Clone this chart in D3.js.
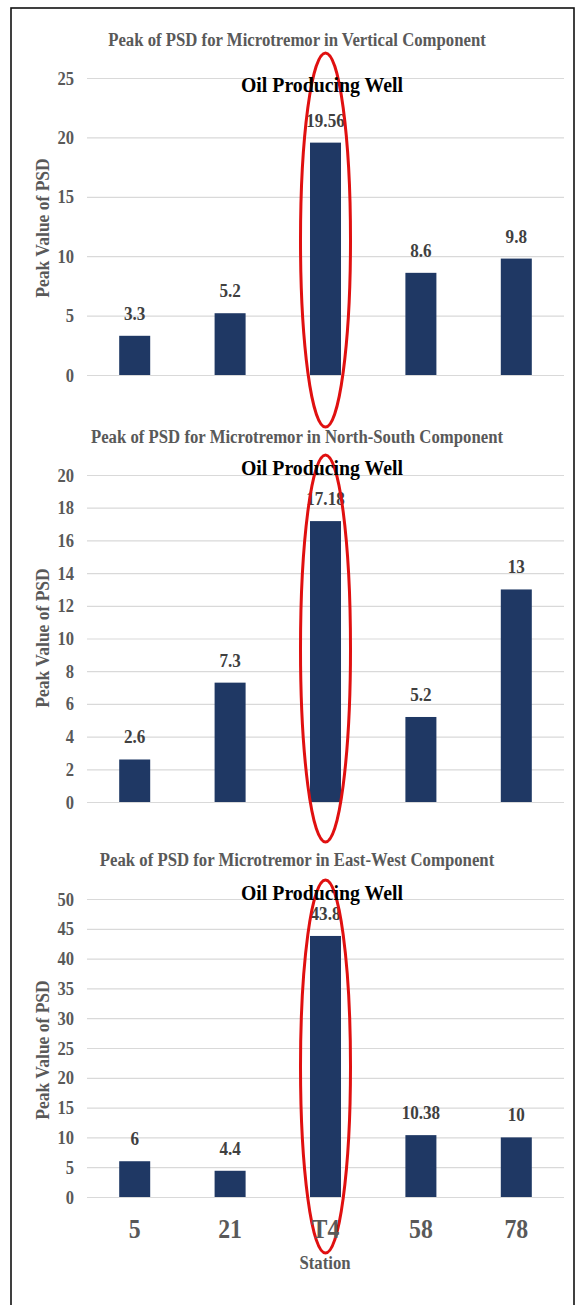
<!DOCTYPE html>
<html>
<head>
<meta charset="utf-8">
<script src="https://cdn.jsdelivr.net/npm/d3@7"></script>
<style>
  html, body { margin: 0; padding: 0; background: #fff; }
  svg { display: block; }
  svg text { font-family: "Liberation Serif", "Times New Roman", Times, "DejaVu Serif", serif; font-weight: bold; }
</style>
</head>
<body>
<svg id="chart" width="576" height="1305"></svg>
<script>
// Stations along the profile
const stations = ["5", "21", "T4", "58", "78"];

// Peak PSD values per component
const verticalPeaks = [3.3, 5.2, 19.56, 8.6, 9.8];
const northSouthPeaks = [2.6, 7.3, 17.18, 5.2, 13];
const eastWestPeaks = [6, 4.4, 43.8, 10.38, 10];

// Panel titles
const panelTitles = [
  "Peak of PSD for Microtremor in Vertical Component",
  "Peak of PSD for Microtremor in North-South Component",
  "Peak of PSD for Microtremor in East-West Component"
];

// Y-axis ticks for each panel
const verticalTicks = [0, 5, 10, 15, 20, 25];
const northSouthTicks = [0, 2, 4, 6, 8, 10, 12, 14, 16, 18, 20];
const eastWestTicks = [0, 5, 10, 15, 20, 25, 30, 35, 40, 45, 50];

const highlightStation = "T4";
const highlightLabel = "Oil Producing Well";
const yAxisTitle = "Peak Value of PSD";
const xAxisTitle = "Station";

const svg = d3.select("#chart");
const serif = "\"Liberation Serif\", \"Times New Roman\", Times, \"DejaVu Serif\", serif";
const grey = "#595959";
const barColor = "#1f3864";

// Narrow every text a little, the way the condensed serif face reads
function squeeze(sel, factor) {
  sel.each(function () {
    const w = this.getComputedTextLength();
    d3.select(this).attr("textLength", w * factor).attr("lengthAdjust", "spacingAndGlyphs");
  });
}

// Outer frame
svg.append("rect")
  .attr("x", 11).attr("y", 8)
  .attr("width", 563).attr("height", 1320)
  .attr("fill", "none").attr("stroke", "#111").attr("stroke-width", 1.6);

const x = d3.scaleBand()
  .domain(stations)
  .range([87, 564])
  .paddingInner(0.675)
  .paddingOuter(0.3375);

const panels = [
  { values: verticalPeaks, ticks: verticalTicks, max: 25, top: 78, bottom: 375,
    titleY: 46, wellY: 92, labelY: 228, ellTop: 25, ellBottom: 52 },
  { values: northSouthPeaks, ticks: northSouthTicks, max: 20, top: 475, bottom: 802,
    titleY: 443, wellY: 475, labelY: 638, ellTop: 20, ellBottom: 40 },
  { values: eastWestPeaks, ticks: eastWestTicks, max: 50, top: 899, bottom: 1197,
    titleY: 866, wellY: 900, labelY: 1050, ellTop: 19, ellBottom: 56 }
];

panels.forEach((p, i) => {
  const g = svg.append("g");
  const y = d3.scaleLinear().domain([0, p.max]).range([p.bottom, p.top]);

  // Gridlines and tick labels
  const yAxis = g.append("g")
    .attr("transform", `translate(${x.range()[0]},0)`)
    .call(d3.axisLeft(y).tickValues(p.ticks).tickSize(-(x.range()[1] - x.range()[0])).tickPadding(13));
  yAxis.attr("font-family", null);
  yAxis.select(".domain").remove();
  yAxis.selectAll(".tick line").attr("stroke", "#d9d9d9").attr("stroke-width", 1.2);
  yAxis.selectAll(".tick text")
    .attr("fill", grey)
    .style("font-family", serif).style("font-size", "19px").style("font-weight", "bold")
    .call(squeeze, 0.87);

  // Bars
  g.selectAll("rect.bar")
    .data(p.values)
    .join("rect")
    .attr("class", "bar")
    .attr("x", (d, k) => x(stations[k]))
    .attr("width", x.bandwidth())
    .attr("y", d => y(d))
    .attr("height", d => y(0) - y(d))
    .attr("fill", barColor);

  // Value labels
  g.selectAll("text.val")
    .data(p.values)
    .join("text")
    .attr("class", "val")
    .attr("x", (d, k) => x(stations[k]) + x.bandwidth() / 2)
    .attr("y", d => y(d) - 16)
    .attr("text-anchor", "middle")
    .attr("fill", "#404040")
    .style("font-family", serif).style("font-size", "18px").style("font-weight", "bold")
    .text(d => d)
    .call(squeeze, 0.95);

  // Panel title
  g.append("text")
    .attr("x", 297).attr("y", p.titleY)
    .attr("text-anchor", "middle")
    .attr("fill", grey)
    .style("font-family", serif).style("font-size", "18px").style("font-weight", "bold")
    .text(panelTitles[i])
    .call(squeeze, 0.93);

  // Y-axis title
  g.append("text")
    .attr("transform", `translate(49,${p.labelY}) rotate(-90)`)
    .attr("text-anchor", "middle")
    .attr("fill", grey)
    .style("font-family", serif).style("font-size", "19px").style("font-weight", "bold")
    .text(yAxisTitle)
    .call(squeeze, 0.92);

  // Highlighted station ring
  const cx = x(highlightStation) + x.bandwidth() / 2;
  const ringTop = y(p.max) - p.ellTop;
  const ringBottom = y(0) + p.ellBottom;
  g.append("ellipse")
    .attr("cx", cx)
    .attr("cy", (ringTop + ringBottom) / 2)
    .attr("rx", 25)
    .attr("ry", (ringBottom - ringTop) / 2)
    .attr("fill", "none")
    .attr("stroke", "#e01010")
    .attr("stroke-width", 3);

  // Well annotation
  g.append("text")
    .attr("x", 322).attr("y", p.wellY)
    .attr("text-anchor", "middle")
    .attr("fill", "#000")
    .style("font-family", serif).style("font-size", "22px").style("font-weight", "bold")
    .text(highlightLabel)
    .call(squeeze, 0.9);

  // Category axis on the last panel only
  if (i === panels.length - 1) {
    const xAxis = g.append("g")
      .attr("transform", `translate(0,${y(0)})`)
      .call(d3.axisBottom(x).tickSize(0).tickPadding(21));
    xAxis.attr("font-family", null);
    xAxis.select(".domain").remove();
    xAxis.selectAll(".tick text")
      .attr("fill", grey)
      .style("font-family", serif).style("font-size", "28px").style("font-weight", "bold")
      .call(squeeze, 0.85);

    g.append("text")
      .attr("x", 325).attr("y", 1269)
      .attr("text-anchor", "middle")
      .attr("fill", grey)
      .style("font-family", serif).style("font-size", "19px").style("font-weight", "bold")
      .text(xAxisTitle)
      .call(squeeze, 0.88);
  }
});
</script>
</body>
</html>
